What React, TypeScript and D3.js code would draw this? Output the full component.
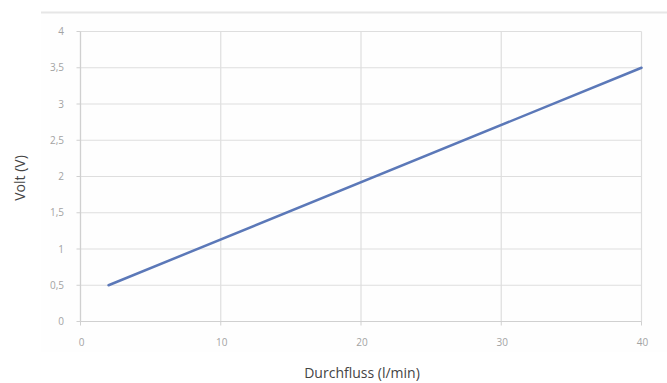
import React from "react";
import * as d3 from "d3";

const flowValues = [2, 40];
const voltValues = [0.5, 3.5];
const xTicks = [0, 10, 20, 30, 40];
const yTicks = [0, 0.5, 1, 1.5, 2, 2.5, 3, 3.5, 4];
const xTitle = "Durchfluss (l/min)";
const yTitle = "Volt (V)";

const W = 667;
const H = 383;

export default function App() {
  const x = d3.scaleLinear().domain([0, 40]).range([80.5, 641.5]);
  const y = d3.scaleLinear().domain([0, 4]).range([321.5, 31.5]);
  const pts = flowValues.map((f, i) => [f, voltValues[i]] as [number, number]);
  const line = d3
    .line<[number, number]>()
    .x((d) => x(d[0]))
    .y((d) => y(d[1]));
  const fmt = (v: number) => String(v).replace(".", ",");

  return (
    <svg
      width={W}
      height={H}
      style={{ position: "absolute", left: 0, top: 0, background: "#fff" }}
      fontFamily="'Open Sans', sans-serif"
    >
      <rect x={41} y={12} width={626} height={340} fill="#fefefe" />
      <line x1={41} x2={667} y1={12.5} y2={12.5} stroke="#e6e6e6" strokeWidth={2} />
      {yTicks.map((t) => (
        <g key={"y" + t}>
          <line x1={x(0)} x2={x(40)} y1={y(t)} y2={y(t)} stroke="#dedede" strokeWidth={1.2} />
          <line x1={x(0) - 4} x2={x(0)} y1={y(t)} y2={y(t)} stroke="#d0d0d0" />
          <text x={64} y={y(t)} dy="0.35em" textAnchor="end" fontSize={10} fill="#a3a3a3">
            {fmt(t)}
          </text>
        </g>
      ))}
      {xTicks.map((t) => (
        <g key={"x" + t}>
          <line x1={x(t)} x2={x(t)} y1={y(4)} y2={y(0)} stroke="#dedede" strokeWidth={1.2} />
          <line x1={x(t)} x2={x(t)} y1={y(0)} y2={y(0) + 4} stroke="#d0d0d0" />
          <text x={x(t) + 1} y={342} dy="0.35em" textAnchor="middle" fontSize={10} fill="#a3a3a3">
            {fmt(t)}
          </text>
        </g>
      ))}
      <line x1={x(0)} x2={x(0)} y1={y(4)} y2={y(0)} stroke="#d0d0d0" strokeWidth={1.2} />
      <line x1={x(0)} x2={x(40)} y1={y(0)} y2={y(0)} stroke="#d0d0d0" strokeWidth={1.2} />
      <path d={line(pts) || ""} fill="none" stroke="#5b78b8" strokeWidth={2.5} strokeLinecap="round" />
      <text x={362} y={373} dy="0.35em" textAnchor="middle" fontSize={14} fill="#444">
        {xTitle}
      </text>
      <text
        transform={`translate(20,${178}) rotate(-90)`}
        textAnchor="middle"
        dy="0.35em"
        fontSize={14}
        fill="#444"
      >
        {yTitle}
      </text>
    </svg>
  );
}
